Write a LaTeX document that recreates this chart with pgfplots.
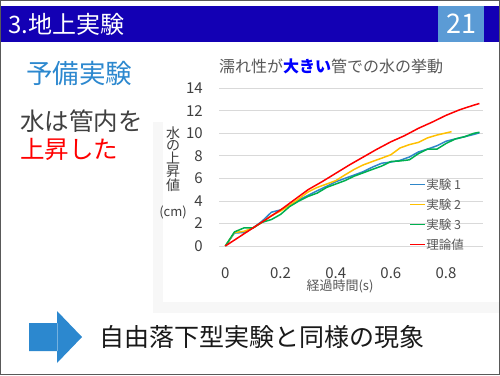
\documentclass[border=0pt]{standalone}
\usepackage{pgfplots}
\pgfplotsset{compat=1.18}
\usepackage{fontspec}
\setmainfont{Noto Sans CJK JP}
\definecolor{barblue}{RGB}{19,0,180}
\definecolor{pgblue}{RGB}{91,155,213}
\definecolor{lblue}{RGB}{44,136,207}
\definecolor{txtgray}{RGB}{64,64,64}
\definecolor{tgray}{RGB}{89,89,89}
\definecolor{gridgray}{RGB}{217,217,217}
\definecolor{s1}{RGB}{46,134,201}
\definecolor{s2}{RGB}{255,192,0}
\definecolor{s3}{RGB}{0,176,80}
\definecolor{s4}{RGB}{255,0,0}
\newcommand{\lkey}[2]{\textcolor{#1}{\rule[0.3em]{15pt}{1.6pt}}\hspace{1pt}\textcolor{tgray}{#2}}
\begin{document}
\begin{tikzpicture}
\begin{scope}[x=1pt,y=-1pt,shift={(0pt,375pt)}]
\fill[white] (0,0) rectangle (500,375);
\fill[gray!6] (153,122) rectangle (500,313);
\fill[white] (163,45) rectangle (500,302);
\fill[barblue] (0,6) rectangle (500,42);
\fill[pgblue] (438,6) rectangle (484,42);
\node[anchor=west,text=white,font=\fontsize{24}{24}\selectfont,inner sep=0pt] at (8,24) {3.地上実験};
\node[text=white,font=\fontsize{27}{27}\selectfont,inner sep=0pt] at (461,24) {21};
\node[anchor=west,text=lblue,font=\fontsize{26.5}{26.5}\selectfont,inner sep=0pt] at (26,73) {予備実験};
\node[anchor=west,text=txtgray,font=\fontsize{24.5}{24.5}\selectfont,inner sep=0pt] at (20,121) {水は管内を};
\node[anchor=west,text=red,font=\fontsize{24.5}{24.5}\selectfont,inner sep=0pt] at (20,149) {上昇した};
\node[text=tgray,font=\fontsize{16}{16}\selectfont,inner sep=0pt] at (331,66) {濡れ性が\textcolor{blue}{\textbf{大きい}}管での水の挙動};
\node[text=txtgray,font=\fontsize{14}{12.8}\selectfont,inner sep=0pt,align=center] at (173,159) {水\\の\\上\\昇\\値};
\node[text=txtgray,font=\fontsize{13}{13}\selectfont,inner sep=0pt] at (173,212) {(cm)};
\node[text=tgray,font=\fontsize{13}{13}\selectfont,inner sep=0pt] at (340,286) {経過時間(s)};
\fill[lblue] (29,323) rectangle (57.5,351) (57,311) -- (82,337) -- (57,363) -- cycle;
\node[anchor=west,text=black!90,font=\fontsize{25}{25}\selectfont,inner sep=0pt] at (99,337) {自由落下型実験と同様の現象};
\draw[gray!70!black,line width=1pt] (0.5,0.5) rectangle (499.5,374.5);
\end{scope}
\begin{axis}[
  at={(219pt,129pt)}, anchor=south west,
  scale only axis, width=264pt, height=157.7pt,
  xmin=-0.023, xmax=0.934, ymin=0, ymax=14,
  axis line style={draw=none}, major tick length=0pt,
  ymajorgrids, grid style={gridgray,line width=0.8pt},
  xtick={0,0.2,0.4,0.6,0.8}, xticklabels={0,0.2,0.4,0.6,0.8},
  ytick={0,2,4,6,8,10,12,14}, yticklabels={0,2,4,6,8,10,12,14},
  tick label style={text=txtgray,font=\fontsize{15}{15}\selectfont,inner sep=0pt},
  yticklabel style={anchor=east,xshift=-16pt},
  xticklabel style={anchor=north,yshift=-21pt},
  legend cell align=left,
  legend image code/.code={},
  legend style={at={(0.72,0.425)},anchor=north west,draw=none,fill=none,
    font=\fontsize{12.5}{12.5}\selectfont,row sep=7pt,inner sep=0pt,
    nodes={inner sep=1pt,text height=9pt,text depth=2pt}},
]
\addplot[color=s1,line width=1.5pt] coordinates {(0,0)(0.033,1.15)(0.067,1.2)(0.1,1.6)(0.133,2.2)(0.167,3.0)(0.2,3.2)(0.233,3.6)(0.267,4.1)(0.3,4.5)(0.333,4.9)(0.367,5.3)(0.4,5.7)(0.433,6.0)(0.467,6.3)(0.5,6.6)(0.533,7.0)(0.567,7.35)(0.6,7.45)(0.633,7.6)(0.667,7.9)(0.7,8.35)(0.733,8.6)(0.767,8.9)(0.8,9.3)(0.833,9.5)(0.867,9.7)(0.9,9.9)(0.921,10.05)};
\addlegendentry{\lkey{s1}{実験 1}}
\addplot[color=s2,line width=1.5pt] coordinates {(0,0)(0.033,1.2)(0.067,1.3)(0.1,1.6)(0.133,2.1)(0.167,2.7)(0.2,3.1)(0.233,3.6)(0.267,4.2)(0.3,4.8)(0.333,5.2)(0.367,5.5)(0.4,5.8)(0.433,6.3)(0.467,6.8)(0.5,7.2)(0.533,7.5)(0.567,7.8)(0.6,8.1)(0.633,8.7)(0.667,9.0)(0.7,9.2)(0.733,9.6)(0.767,9.85)(0.82,10.15)};
\addlegendentry{\lkey{s2}{実験 2}}
\addplot[color=s3,line width=1.5pt] coordinates {(0,0)(0.033,1.25)(0.067,1.6)(0.1,1.6)(0.133,2.1)(0.167,2.35)(0.2,2.8)(0.233,3.5)(0.267,4.0)(0.3,4.4)(0.333,4.7)(0.367,5.2)(0.4,5.5)(0.433,5.8)(0.467,6.2)(0.5,6.5)(0.533,6.8)(0.567,7.1)(0.6,7.5)(0.633,7.55)(0.667,7.65)(0.7,8.2)(0.733,8.6)(0.767,8.6)(0.8,9.1)(0.833,9.5)(0.867,9.7)(0.9,10.0)(0.921,10.1)};
\addlegendentry{\lkey{s3}{実験 3}}
\addplot[color=s4,line width=1.5pt] coordinates {(0,0)(0.05,0.8)(0.1,1.6)(0.15,2.4)(0.2,3.2)(0.25,4.1)(0.3,5.0)(0.35,5.7)(0.4,6.45)(0.45,7.2)(0.5,7.9)(0.55,8.6)(0.6,9.25)(0.65,9.8)(0.7,10.45)(0.75,11.0)(0.8,11.6)(0.85,12.1)(0.9,12.5)(0.921,12.65)};
\addlegendentry{\lkey{s4}{理論値}}
\end{axis}
\pgfresetboundingbox
\useasboundingbox (0,0) rectangle (500pt,375pt);
\end{tikzpicture}
\end{document}
